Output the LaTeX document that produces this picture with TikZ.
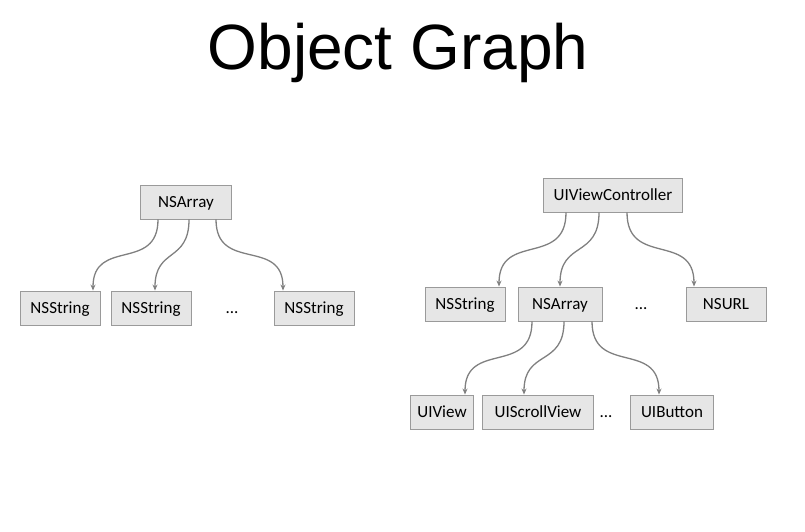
\documentclass[tikz,border=0pt]{standalone}
\usepackage{fontspec}
\setmainfont{Carlito}
\newfontfamily\titlefont{Liberation Sans}
\usepackage{xcolor}
\usetikzlibrary{arrows.meta}

\definecolor{boxfill}{HTML}{E6E6E6}
\definecolor{boxline}{HTML}{9A9A9A}
\definecolor{linkline}{HTML}{808080}

\tikzset{
  objbox/.style={draw=boxline, fill=boxfill, line width=0.9pt, minimum height=34pt,
    minimum width=80pt, inner xsep=10pt, text depth=0pt, font=\fontsize{17}{20}\selectfont},
  dots/.style={anchor=base, font=\fontsize{17}{20}\selectfont},
  link/.style={draw=linkline, line width=1.3pt, -{Stealth[length=6pt,width=5pt]},
    out=-90, in=90, looseness=1.4}
}

\begin{document}
\begin{tikzpicture}[x=1pt, y=-1pt]
  \useasboundingbox (0,0) rectangle (805,532);
  \node (title) at (398,53) {\titlefont\fontsize{64}{70}\selectfont Object Graph};

  \node[objbox, minimum width=91pt] (arr) at (186,202) {NSArray};
  \node[objbox] (strA) at (60,308) {NSString};
  \node[objbox] (strB) at (151,308) {NSString};
  \node[dots] (dotsA) at (232,313) {...};
  \node[objbox] (strC) at (314,308) {NSString};
  \draw[link] ([xshift=-28pt]arr.south) to ([xshift=33pt]strA.north);
  \draw[link] ([xshift=3pt]arr.south) to ([xshift=4pt]strB.north);
  \draw[link] ([xshift=30pt]arr.south) to ([xshift=-31pt]strC.north);

  \node[objbox] (vc) at (613,195) {UIViewController};
  \node[objbox] (strR) at (465,304) {NSString};
  \node[objbox, minimum width=84pt] (arrR) at (560,304) {NSArray};
  \node[dots] (dotsR) at (641,309) {...};
  \node[objbox] (url) at (726,304) {NSURL};
  \draw[link] ([xshift=-47pt]vc.south) to ([xshift=34pt]strR.north);
  \draw[link] ([xshift=-14pt]vc.south) to (arrR.north);
  \draw[link] ([xshift=14pt]vc.south) to ([xshift=-32pt]url.north);

  \node[objbox, minimum width=63pt, inner xsep=6pt] (view) at (442,412) {UIView};
  \node[objbox, minimum width=111pt] (scroll) at (538,412) {UIScrollView};
  \node[dots] (dotsB) at (606,417) {...};
  \node[objbox, minimum width=83pt] (btn) at (672,412) {UIButton};
  \draw[link] ([xshift=-28pt]arrR.south) to ([xshift=23pt]view.north);
  \draw[link] ([xshift=4pt]arrR.south) to ([xshift=-14pt]scroll.north);
  \draw[link] ([xshift=32pt]arrR.south) to ([xshift=-13pt]btn.north);
\end{tikzpicture}
\end{document}
